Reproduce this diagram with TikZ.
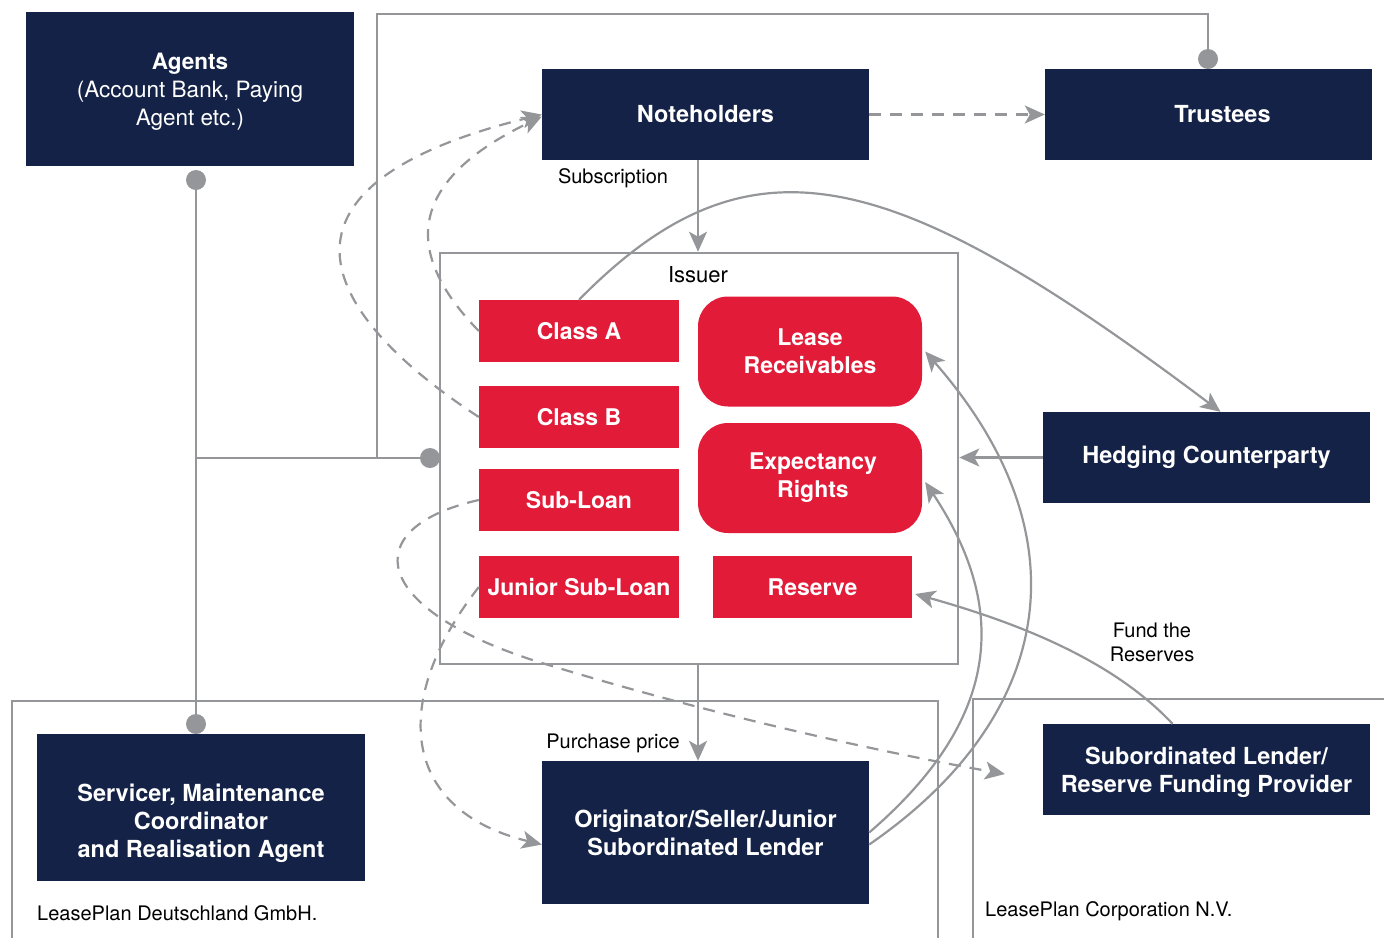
\documentclass[tikz,border=0pt]{standalone}
\usepackage{fontspec}
\setmainfont{TeX Gyre Heros}
\usepackage{tikz}
\usetikzlibrary{arrows.meta}
\definecolor{lpnavy}{RGB}{19,34,70}
\definecolor{lpred}{RGB}{225,27,56}
\definecolor{lpgray}{RGB}{148,150,153}

\begin{document}
\begin{tikzpicture}[x=1pt, y=-1pt,
  >={Stealth[length=20pt,width=18pt,inset=5pt]},
  ptext/.style={text=white, align=center, inner sep=0pt, font=\fontsize{23.5}{28}\selectfont\bfseries},
  party/.style={ptext, fill=lpnavy, minimum width=327pt, minimum height=91pt},
  pot/.style={fill=lpred, text=white, align=center, inner sep=0pt, minimum width=200pt, minimum height=62pt, font=\fontsize{23}{28}\selectfont\bfseries},
  asset/.style={pot, rounded corners=30pt, minimum width=224pt, minimum height=110pt},
  frame/.style={draw=lpgray, line width=2.6pt, inner sep=0pt},
  lbl/.style={inner sep=0pt, align=center, font=\fontsize{20}{24}\selectfont},
  link/.style={draw=lpgray, line width=2.2pt},
  alink/.style={link, ->},
  dlink/.style={link, ->, dash pattern=on 12pt off 9pt}]
\useasboundingbox (0,0) rectangle (1384,938);

% company frames
\draw[lpgray, line width=2.4pt] (12,938) |- (938,701) -- (938,938);
\draw[lpgray, line width=2.4pt] (973,938) |- (1384,699);
\node[lbl, anchor=west] (lpde) at (37,913) {LeasePlan Deutschland GmbH.};
\node[lbl, anchor=west] (lpnv) at (985,911) {LeasePlan Corporation N.V.};

% issuer and its contents
\node[frame, minimum width=518pt, minimum height=411pt] (issuer) at (699,458.5) {};
\node[lbl, font=\fontsize{22}{24}\selectfont] (issuerlbl) at (698,275) {Issuer};
\node[pot] (classA) at (579,331) {Class A};
\node[pot] (classB) at (579,417) {Class B};
\node[pot] (subloan) at (579,500) {Sub-Loan};
\node[pot] (junior) at (579,587) {Junior Sub-Loan};
\node[asset] (lease) at (810,351.5) {Lease\\Receivables};
\node[asset] (expect) at (810,478) {\hspace*{6pt}Expectancy\\\hspace*{6pt}Rights};
\node[pot, minimum width=199pt] (reserve) at (812.5,587) {Reserve};

% parties
\node[party, minimum width=328pt, minimum height=154pt] (agents) at (190,89) {};
\node[ptext, font=\fontsize{22.5}{28}\selectfont] (agentstxt) at (190,92) {\textbf{Agents}\\(Account Bank, Paying\\Agent etc.)};
\node[party] (notes) at (705.5,114.5) {Noteholders};
\node[party] (trustees) at (1208.5,114.5) {\hspace*{28pt}Trustees};
\node[party] (hedge) at (1206.5,457.5) {Hedging Counterparty};
\node[party] (sublender) at (1206.5,769.5) {};
\node[ptext] (sublendertxt) at (1206.5,772) {Subordinated Lender/\\Reserve Funding Provider};
\node[party, minimum width=328pt, minimum height=147pt] (servicer) at (201,807.5) {};
\node[ptext] (servicertxt) at (201,823) {Servicer, Maintenance\\Coordinator\\and Realisation Agent};
\node[party, minimum height=143pt] (orig) at (705.5,832.5) {Originator/Seller/Junior\\Subordinated Lender};

% labels
\node[lbl] (subscr) at (613,178) {Subscription};
\node[lbl] (purchase) at (613,743) {Purchase price};
\node[lbl] (fund) at (1152,642) {Fund the\\Reserves};

% agency lines
\coordinate (agdot) at (196,180);
\coordinate (svdot) at (196,724);
\coordinate (isdot) at (430,458);
\coordinate (trdot) at (1208,59);
\draw[link] (agdot) -- (svdot);
\draw[link] (196,458) -- (isdot);
\draw[link] (377,458) -- (377,14) -| (trdot);
\foreach \d in {agdot,svdot,isdot,trdot}
  \fill[lpgray] (\d) circle (10pt);

% cash flows
\draw[dlink] (notes.east) -- (trustees.west);
\draw[alink] ([xshift=-7.5pt]notes.south) -- ([xshift=-7.5pt]notes.south |- issuer.north);
\draw[alink] ([xshift=-1pt]issuer.south) -- ([xshift=-1pt]issuer.south |- orig.north);
\draw[alink] (hedge.west) -- (issuer.east |- hedge.west);
\draw[alink] (classA.north) .. controls (749,127) and (890,163) .. ([xshift=14pt]hedge.north);
\draw[alink] (orig.east) .. controls (1000,720) and (1010,610) .. ([xshift=3pt,yshift=-4pt]expect.east);
\draw[alink] ([yshift=-12pt]orig.east) .. controls (1050,720) and (1090,540) .. ([xshift=3pt]lease.east);
\draw[alink] ([xshift=-34pt]sublender.north) .. controls (1112,659) and (1015,622) .. ([shift={(3pt,-7pt)}]reserve.east);

% notes and loans
\coordinate (slin) at (1005,774);
\draw[dlink] (classA.west) .. controls (400,250) and (410,180) .. ([yshift=-2pt]notes.west);
\draw[dlink] (classB.west) .. controls (315,310) and (255,185) .. (notes.west);
\draw[dlink] (subloan.west) .. controls (355,528) and (370,610) .. (542,663) .. controls (712,715) and (880,752) .. (slin);
\draw[dlink] (junior.west) .. controls (390,700) and (400,810) .. ([yshift=-12pt]orig.west);
\end{tikzpicture}
\end{document}
